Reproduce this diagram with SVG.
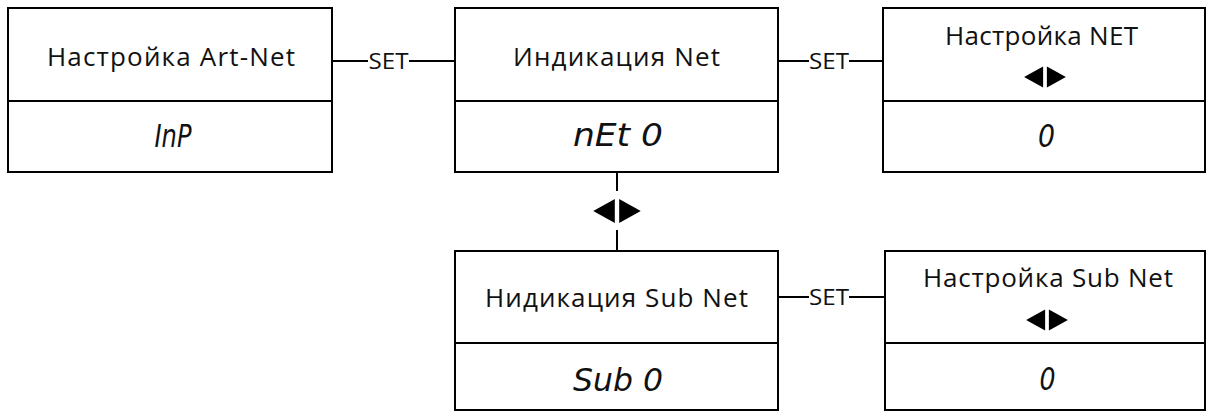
<svg xmlns="http://www.w3.org/2000/svg" width="1208" height="412" viewBox="0 0 1208 412">
  <defs>
    <!-- left/right navigation key pair -->
    <g id="lr-keys">
      <polygon points="-2,-11 -2,11 -22,0" fill="#000"/>
      <polygon points="2,-11 2,11 22,0" fill="#000"/>
    </g>
  </defs>
  <style>
    .box { fill: #fff; stroke: #000; stroke-width: 2; }
    .div { stroke: #000; stroke-width: 2; }
    .wire { stroke: #000; stroke-width: 2; fill: none; }
    .title { font-family: "Open Sans", "Noto Sans", "Liberation Sans", sans-serif; font-size: 26px; fill: #111; text-anchor: middle; }
    .set { font-family: "Open Sans", "Liberation Sans", sans-serif; font-size: 21px; fill: #111; text-anchor: middle; }
    .seg { font-family: "DejaVu Sans", sans-serif; font-style: oblique; font-weight: 200; font-size: 32px; fill: #111; text-anchor: middle; }
  </style>

  <g id="connectors">
    <line class="wire" x1="332" y1="61" x2="368" y2="61"/>
    <line class="wire" x1="409" y1="61" x2="455" y2="61"/>
    <text class="set" x="388.5" y="68.5" textLength="40" lengthAdjust="spacingAndGlyphs">SET</text>

    <line class="wire" x1="778" y1="61" x2="809" y2="61"/>
    <line class="wire" x1="849" y1="61" x2="883" y2="61"/>
    <text class="set" x="829" y="68.5" textLength="40" lengthAdjust="spacingAndGlyphs">SET</text>

    <line class="wire" x1="617" y1="172" x2="617" y2="191"/>
    <line class="wire" x1="617" y1="230" x2="617" y2="251"/>
    <use href="#lr-keys" transform="translate(617,211) scale(1.08)"/>

    <line class="wire" x1="778" y1="297" x2="809" y2="297"/>
    <line class="wire" x1="849" y1="297" x2="885" y2="297"/>
    <text class="set" x="829" y="304.5" textLength="40" lengthAdjust="spacingAndGlyphs">SET</text>
  </g>

  <g id="artnet-setup">
    <rect class="box" x="8" y="8" width="324" height="164"/>
    <line class="div" x1="8" y1="101" x2="332" y2="101"/>
    <text class="title" x="171" y="66" textLength="248" lengthAdjust="spacing">Настройка Art-Net</text>
    <text class="seg" x="173" y="147" textLength="37" lengthAdjust="spacingAndGlyphs">InP</text>
  </g>

  <g id="net-display">
    <rect class="box" x="455" y="8" width="323" height="164"/>
    <line class="div" x1="455" y1="101" x2="778" y2="101"/>
    <text class="title" x="616.5" y="66" textLength="207" lengthAdjust="spacing">Индикация Net</text>
    <text class="seg" x="618" y="146" textLength="90" lengthAdjust="spacingAndGlyphs">nEt 0</text>
  </g>

  <g id="net-setup">
    <rect class="box" x="883" y="8" width="322" height="164"/>
    <line class="div" x1="883" y1="101" x2="1205" y2="101"/>
    <text class="title" x="1041.5" y="45" textLength="193" lengthAdjust="spacing">Настройка NET</text>
    <use href="#lr-keys" transform="translate(1045,77) scale(0.95)"/>
    <text class="seg" x="1046.5" y="147" textLength="17" lengthAdjust="spacingAndGlyphs">0</text>
  </g>

  <g id="subnet-display">
    <rect class="box" x="455" y="251" width="323" height="159"/>
    <line class="div" x1="455" y1="343" x2="778" y2="343"/>
    <text class="title" x="616.5" y="307" textLength="263" lengthAdjust="spacing">Нидикация Sub Net</text>
    <text class="seg" x="618" y="391" textLength="90" lengthAdjust="spacingAndGlyphs">Sub 0</text>
  </g>

  <g id="subnet-setup">
    <rect class="box" x="885" y="251" width="320" height="159"/>
    <line class="div" x1="885" y1="343" x2="1205" y2="343"/>
    <text class="title" x="1048" y="287" textLength="250" lengthAdjust="spacing">Настройка Sub Net</text>
    <use href="#lr-keys" transform="translate(1047,320) scale(0.95)"/>
    <text class="seg" x="1047.5" y="390" textLength="16" lengthAdjust="spacingAndGlyphs">0</text>
  </g>
</svg>
